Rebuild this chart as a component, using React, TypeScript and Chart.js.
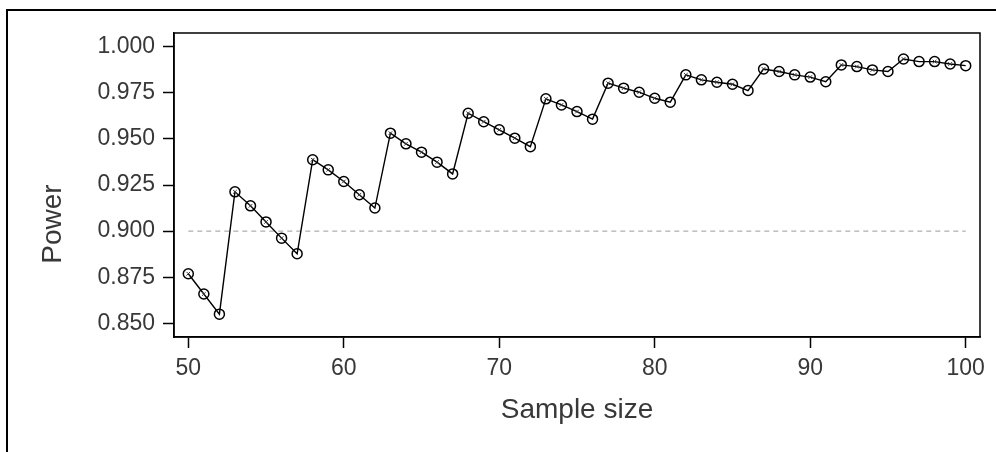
import React, { useEffect, useRef } from 'react';
import { Chart, registerables } from 'chart.js';

Chart.register(...registerables);

const sampleSizes = [
  50, 51, 52, 53, 54, 55, 56, 57, 58, 59,
  60, 61, 62, 63, 64, 65, 66, 67, 68, 69,
  70, 71, 72, 73, 74, 75, 76, 77, 78, 79,
  80, 81, 82, 83, 84, 85, 86, 87, 88, 89,
  90, 91, 92, 93, 94, 95, 96, 97, 98, 99, 100,
];

const power = [
  0.8769, 0.8659, 0.8550, 0.9213, 0.9137, 0.9050, 0.8962, 0.8877, 0.9387, 0.9332,
  0.9269, 0.9197, 0.9125, 0.9531, 0.9473, 0.9428, 0.9374, 0.9310, 0.9639, 0.9593,
  0.9549, 0.9504, 0.9458, 0.9717, 0.9684, 0.9648, 0.9607, 0.9802, 0.9775, 0.9753,
  0.9720, 0.9699, 0.9847, 0.9820, 0.9807, 0.9796, 0.9762, 0.9879, 0.9865, 0.9847,
  0.9835, 0.9810, 0.9901, 0.9892, 0.9874, 0.9865, 0.9933, 0.9919, 0.9919, 0.9906, 0.9897,
];

const targetPower = 0.9;
const targetRange = [50, 100];

const xTickValues = [50, 60, 70, 80, 90, 100];
const yTickValues = [0.85, 0.875, 0.9, 0.925, 0.95, 0.975, 1.0];

const xTitle = 'Sample size';
const yTitle = 'Power';

const FONT = "'Liberation Sans', Arial, sans-serif";
const TEXT = '#383838';

const framePlugin = {
  id: 'sasFrame',
  beforeDraw(chart: any) {
    const { ctx, width, height } = chart;
    ctx.save();
    ctx.fillStyle = '#ffffff';
    ctx.fillRect(0, 0, width, height);
    ctx.strokeStyle = '#000000';
    ctx.lineWidth = 2;
    ctx.beginPath();
    ctx.moveTo(7, height);
    ctx.lineTo(7, 10);
    ctx.lineTo(width, 10);
    ctx.stroke();
    ctx.restore();
  },
  afterDraw(chart: any) {
    const { ctx, chartArea } = chart;
    ctx.save();
    ctx.strokeStyle = '#000000';
    ctx.lineWidth = 1.5;
    ctx.strokeRect(chartArea.left, chartArea.top, chartArea.right - chartArea.left, chartArea.bottom - chartArea.top);
    ctx.fillStyle = TEXT;
    ctx.font = `28px ${FONT}`;
    ctx.textAlign = 'center';
    ctx.textBaseline = 'middle';
    ctx.translate(53, 224);
    ctx.rotate(-Math.PI / 2);
    ctx.fillText(yTitle, 0, 0);
    ctx.restore();
  },
};

export default function App() {
  const canvasRef = useRef<HTMLCanvasElement | null>(null);

  useEffect(() => {
    if (!canvasRef.current) return;
    const points = sampleSizes.map((n, i) => ({ x: n, y: power[i] }));
    const chart = new Chart(canvasRef.current, {
      type: 'line',
      data: {
        datasets: [
          {
            data: points,
            showLine: false,
            pointStyle: 'crossRot',
            pointRadius: (c: any) => {
              const i = c.dataIndex;
              return i < power.length - 1 && power[i + 1] < power[i] ? 2.6 : 0;
            },
            pointBorderWidth: 1,
            pointBorderColor: '#3a3a3a',
          },
          {
            data: points,
            borderColor: '#000000',
            borderWidth: 1.4,
            tension: 0,
            pointRadius: 5,
            pointBorderWidth: 1.5,
            pointBorderColor: '#000000',
            pointBackgroundColor: 'rgba(255,255,255,0)',
            pointStyle: 'circle',
          },
          {
            data: targetRange.map((n) => ({ x: n, y: targetPower })),
            borderColor: '#9a9a9a',
            borderWidth: 1,
            borderDash: [5, 4],
            pointRadius: 0,
            tension: 0,
          },
        ],
      },
      options: {
        responsive: false,
        animation: false,
        layout: { padding: { top: 33, right: 16, left: 0, bottom: 0 } },
        plugins: { legend: { display: false }, tooltip: { enabled: false } },
        scales: {
          x: {
            type: 'linear',
            min: 49.08,
            max: 100.92,
            afterBuildTicks: (s: any) => {
              s.ticks = xTickValues.map((v) => ({ value: v }));
            },
            afterFit: (s: any) => {
              s.height = 115;
            },
            grid: { drawOnChartArea: false, drawTicks: true, tickLength: 11, tickWidth: 1.5, tickColor: '#000000' },
            border: { display: true, color: '#000000', width: 1.5 },
            ticks: {
              padding: 7,
              color: TEXT,
              font: { family: FONT, size: 23 },
              maxRotation: 0,
              autoSkip: false,
              callback: (v: any) => String(v),
            },
            title: {
              display: true,
              text: xTitle,
              color: TEXT,
              font: { family: FONT, size: 28 },
              padding: { top: 0, bottom: 25 },
            },
          },
          y: {
            type: 'linear',
            min: 0.8426,
            max: 1.0074,
            afterBuildTicks: (s: any) => {
              s.ticks = yTickValues.map((v) => ({ value: v }));
            },
            afterFit: (s: any) => {
              s.width = 174;
            },
            grid: { drawOnChartArea: false, drawTicks: true, tickLength: 11, tickWidth: 1.5, tickColor: '#000000' },
            border: { display: true, color: '#000000', width: 1.5 },
            ticks: {
              padding: 8,
              color: TEXT,
              font: { family: FONT, size: 23 },
              autoSkip: false,
              callback: (v: any) => Number(v).toFixed(3),
            },
          },
        },
      },
      plugins: [framePlugin],
    });
    return () => chart.destroy();
  }, []);

  return (
    <div style={{ position: 'fixed', left: 0, top: 0, width: 996, height: 452, background: '#fff' }}>
      <canvas ref={canvasRef} width={996} height={452} style={{ display: 'block' }} />
    </div>
  );
}
